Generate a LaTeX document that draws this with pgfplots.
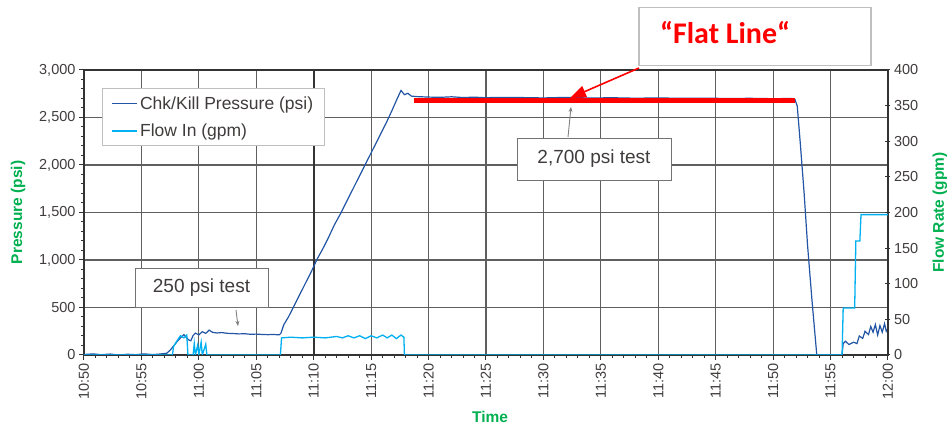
\documentclass[border=0pt]{standalone}
\usepackage{pgfplots}
\pgfplotsset{compat=1.18}
\usepackage{fontspec}
\setmainfont{Liberation Sans}
\newfontfamily\calib{Carlito}
\usetikzlibrary{arrows.meta}
\definecolor{pres}{RGB}{35,85,165}
\definecolor{flow}{RGB}{0,176,240}
\definecolor{lblgreen}{RGB}{0,176,80}
\definecolor{tickc}{RGB}{64,60,60}
\definecolor{gridc}{RGB}{95,95,95}
\begin{document}
\begin{tikzpicture}
\pgfplotsset{
  every axis/.style={scale only axis, width=804pt, height=285pt, xmin=0, xmax=70,
    /pgf/number format/assume math mode=true,
    tick label style={font=\fontsize{14.5}{17}\selectfont, text=tickc},
    axis line style={color=black!80, line width=1.3pt},
    major tick length=5pt, minor tick length=3pt,
    every tick/.style={color=black!80, line width=1pt}},
}
\begin{axis}[
  ymin=0, ymax=3000,
  ytick={0,500,...,3000},
  minor y tick num=4,
  xtick={0,5,...,70},
  xticklabels={10:50,10:55,11:00,11:05,11:10,11:15,11:20,11:25,11:30,11:35,11:40,11:45,11:50,11:55,12:00},
  minor x tick num=4,
  x tick label style={rotate=90, anchor=east},
  tick align=outside,
  xtick pos=bottom, ytick pos=left,
  /pgf/number format/1000 sep={,},
  grid=major,
  major grid style={color=gridc, line width=1.1pt},
  ylabel={Pressure (psi)},
  xlabel={Time},
  every axis y label/.style={at={(axis description cs:-0.082,0.5)}, rotate=90, anchor=center,
    font=\fontsize{15.5}{18}\selectfont\bfseries, text=lblgreen},
  every axis x label/.style={at={(axis description cs:0.505,-0.2175)}, anchor=center,
    font=\fontsize{15.5}{18}\selectfont\bfseries, text=lblgreen},
  legend style={at={(0.0224,0.937)}, anchor=north west, draw=black!25, line width=1pt,
    font=\fontsize{17.5}{20}\selectfont, text=tickc, row sep=9pt, inner xsep=9pt, inner ysep=6pt},
  legend cell align=left,
  legend image code/.code={\draw[#1, line width=1.6pt] (0pt,0pt) -- (25pt,0pt);},
]
\draw[line width=2pt, black!80] (axis cs:20,0) -- (axis cs:20,3000);
\addplot[pres, line width=1.2pt] coordinates {
(0,5) (0.8,12) (1.5,3) (2.3,10) (3,0) (3.8,8) (4.5,3) (5.2,12) (6,4) (6.6,10) (7.2,18)
(7.5,50) (7.8,95) (8.1,140) (8.4,180) (8.7,215) (8.9,185) (9.1,160) (9.3,150) (9.5,205)
(9.7,230) (10.0,212) (10.3,245) (10.6,228) (10.9,262) (11.2,238) (11.6,232) (12,236)
(12.5,228) (13,226) (13.5,222) (14,224) (14.5,218) (15,220) (15.5,216) (16,214) (16.5,216) (17,212)
(17.15,230) (17.4,320) (17.8,400) (18.3,520) (18.8,640) (19.3,760) (19.8,880) (20.3,1010)
(20.8,1120) (21.3,1240) (21.8,1370) (22.3,1480) (22.8,1600) (23.3,1720) (23.8,1840)
(24.3,1960) (24.8,2080) (25.3,2200) (25.8,2320) (26.3,2440) (26.8,2570) (27.2,2680)
(27.6,2785) (27.9,2740) (28.2,2755) (28.5,2725) (29,2720) (30,2715) (31,2712) (32,2718)
(33,2710) (34,2714) (35,2708) (36,2712) (38,2710) (40,2706) (42,2712) (44,2705) (46,2708)
(48,2703) (50,2706) (52,2702) (54,2704) (56,2700) (58,2702) (60,2698) (61.6,2700)
(61.9,2690) (62.1,2620) (62.35,2250) (62.7,1700) (63.0,1150) (63.4,550) (63.8,0)
(66.0,0) (66.1,120) (66.3,145) (66.6,110) (67,135) (67.3,120) (67.5,200) (67.8,175)
(68,250) (68.3,215) (68.5,300) (68.7,240) (68.9,320) (69.1,210) (69.3,310) (69.5,240)
(69.7,330) (69.85,250) (70,280)
};
\addlegendentry{Chk/Kill Pressure (psi)}
\addlegendimage{flow, line width=1.6pt}
\addlegendentry{Flow In (gpm)}
\addplot[red, line width=5pt] coordinates {(28.7,2684) (61.9,2684)};
\end{axis}
\begin{axis}[
  ymin=0, ymax=400,
  ytick={0,50,...,400},
  axis y line*=right, axis x line=none,
  tick align=center,
  ylabel={Flow Rate (gpm)},
  every axis y label/.style={at={(axis description cs:1.0647,0.5)}, rotate=90, anchor=center,
    font=\fontsize{15.5}{18}\selectfont\bfseries, text=lblgreen},
]
\addplot[flow, line width=1.3pt] coordinates {
(0,0) (7.7,0) (7.8,12) (8.1,20) (8.4,27) (8.7,24) (8.95,28) (9.05,0) (9.5,0) (9.6,16) (9.7,0)
(9.9,14) (10.0,0) (10.2,18) (10.3,0) (10.6,15) (10.7,0) (17.1,0) (17.2,24)
(18,25) (19,24) (20,25) (21,24) (22,26) (22.5,24) (23,27) (23.5,24) (24,27) (24.5,23)
(25,27) (25.5,24) (26,28) (26.4,24) (26.8,28) (27.2,23) (27.6,28) (27.85,25) (27.9,0)
(66.0,0) (66.1,66) (67.1,66) (67.2,160) (67.55,160) (67.65,197) (70,197)
};
\end{axis}
% annotations
\draw[black!50, line width=0.9pt, -{Stealth[length=5pt,width=4pt]}] (152pt,45pt) -- (154pt,29pt);
\node[draw=black!55, line width=0.9pt, fill=white, minimum width=133pt, minimum height=39pt,
  font=\fontsize{19}{22}\selectfont, text=tickc] at (117.5pt,67.5pt) {250 psi test};
\draw[black!50, line width=0.9pt, -{Stealth[length=5pt,width=4pt]}] (484pt,218pt) -- (487pt,248pt);
\node[draw=black!55, line width=0.9pt, fill=white, minimum width=154pt, minimum height=42pt,
  font=\fontsize{19}{22}\selectfont, text=tickc] at (510pt,196pt) {2,700 psi test};
\draw[red, line width=1.6pt, -{Triangle[length=16pt,width=12pt]}] (555pt,287pt) -- (486pt,257pt);
\node[draw=black!25, line width=1.5pt, fill=white, minimum width=232pt, minimum height=58pt,
  anchor=north west] at (554pt,348pt) {};
\node[font=\calib\fontsize{30}{34}\selectfont\bfseries, text=red] at (641pt,322pt) {“Flat Line“};
\pgfresetboundingbox
\path (-84pt,-73pt) rectangle (867pt,355pt);
\end{tikzpicture}
\end{document}
